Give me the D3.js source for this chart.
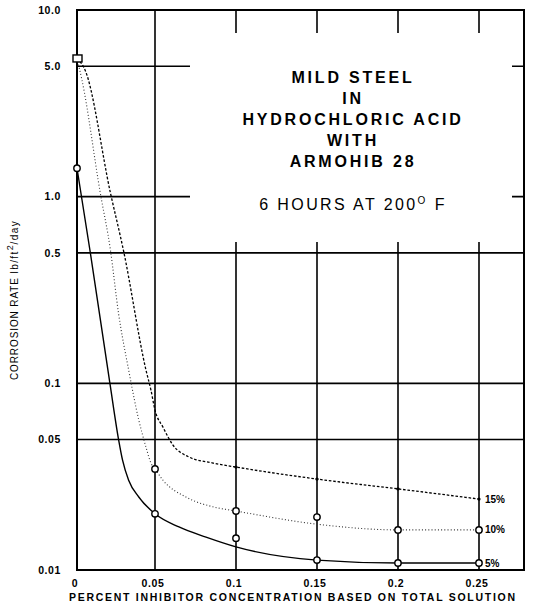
<!DOCTYPE html>
<meta charset="utf-8">
<script src="https://d3js.org/d3.v7.min.js"></script>
<style type="text/css">
    body { margin: 0; background: #fff; }
    text { font-family: "Liberation Sans", Arial, sans-serif; fill: #000; }
</style>
<body>
<svg width="533" height="607"></svg>
<script>

    // axis ticks
    let xTicks = [0, 0.05, 0.1, 0.15, 0.2, 0.25],
        xTickLabels = ['0', '0.05', '0.1', '0.15', '0.2', '0.25'],
        yTicks = [10, 5, 1, 0.5, 0.1, 0.05, 0.01],
        yTickLabels = ['10.0', '5.0', '1.0', '0.5', '0.1', '0.05', '0.01']

    // measured points (markers)
    let conc = [0, 0.05, 0.1, 0.15, 0.2, 0.25],
        obs5 = [1.42, 0.0200, 0.0148, 0.0113, 0.0109, 0.0109],
        obs10 = [5.5, 0.0348, 0.0207, 0.0192, 0.0164, 0.0164],
        obs15 = [null, null, 0.0356, 0.0307, 0.0272, 0.0240]

    // faired curves
    let curve5X = [0, 0.0084, 0.0211, 0.0266, 0.0292, 0.0331, 0.0396, 0.05, 0.0648, 0.0815, 0.1, 0.15, 0.2, 0.25],
        curve5Y = [1.42, 0.51, 0.1, 0.0503, 0.0388, 0.0303, 0.0246, 0.0200, 0.0170, 0.0150, 0.0133, 0.0113, 0.0109, 0.0109],
        curve10X = [0, 0.0032, 0.0149, 0.0214, 0.0266, 0.0331, 0.0396, 0.0442, 0.0474, 0.05, 0.0549, 0.0691, 0.0858, 0.1, 0.15, 0.2, 0.25],
        curve10Y = [5.5, 4.21, 1.05, 0.52, 0.238, 0.118, 0.0636, 0.0456, 0.0374, 0.0348, 0.0303, 0.0246, 0.0218, 0.0207, 0.0176, 0.0164, 0.0164],
        curve15X = [0, 0.0052, 0.0214, 0.0299, 0.0442, 0.0474, 0.05, 0.0549, 0.0611, 0.0710, 0.0858, 0.1, 0.15, 0.2, 0.25],
        curve15Y = [5.5, 4.76, 1.05, 0.51, 0.118, 0.092, 0.0719, 0.0583, 0.0467, 0.0403, 0.0374, 0.0356, 0.0307, 0.0272, 0.0240]

    let seriesNames = ['5%', '10%', '15%']

    let titleLines = ['MILD STEEL', 'IN', 'HYDROCHLORIC ACID', 'WITH', 'ARMOHIB 28']

    let svg = d3.select('svg')

    // the printed grid is a little uneven between 0 and 0.05
    let x = d3.scaleLinear().domain([0, 0.05, 0.25]).range([77, 155, 479]),
        y = d3.scaleLog().domain([0.01, 10]).range([570, 10]),
        xRight = 524

    // title box area (gridlines are cut out under it)
    let box = {x0: 190, x1: 512, y0: 33, y1: 242}

    let grid = svg.append('g').attr('stroke', '#000').attr('stroke-width', 1.6)

    grid.selectAll('line.v').data(xTicks.slice(1)).enter().append('line')
        .attr('class', 'v')
        .attr('x1', d => x(d)).attr('x2', d => x(d))
        .attr('y1', y(10)).attr('y2', y(0.01))

    grid.selectAll('line.h').data(yTicks.slice(1, -1)).enter().append('line')
        .attr('class', 'h')
        .attr('x1', x(0)).attr('x2', xRight)
        .attr('y1', d => y(d)).attr('y2', d => y(d))

    svg.append('rect')
        .attr('x', box.x0).attr('y', box.y0)
        .attr('width', box.x1 - box.x0).attr('height', box.y1 - box.y0)
        .attr('fill', '#fff')

    svg.append('rect')
        .attr('x', x(0)).attr('y', y(10))
        .attr('width', xRight - x(0)).attr('height', y(0.01) - y(10))
        .attr('fill', 'none').attr('stroke', '#000').attr('stroke-width', 2)

    // tick labels
    svg.selectAll('text.yt').data(yTicks).enter().append('text')
        .attr('class', 'yt')
        .attr('x', 61).attr('y', d => y(d)).attr('dy', '0.35em')
        .attr('text-anchor', 'end')
        .style('font-size', '10.5px').style('font-weight', 'bold').style('letter-spacing', '0.6px')
        .text((d, i) => yTickLabels[i])

    svg.selectAll('text.xt').data(xTicks).enter().append('text')
        .attr('class', 'xt')
        .attr('x', d => x(d) - 2).attr('y', 587)
        .attr('text-anchor', 'middle')
        .style('font-size', '10.5px').style('font-weight', 'bold').style('letter-spacing', '0.6px')
        .text((d, i) => xTickLabels[i])

    svg.append('text')
        .attr('x', 69).attr('y', 601)
        .attr('textLength', 446).attr('lengthAdjust', 'spacing')
        .style('font-size', '10.5px').style('font-weight', 'bold')
        .text('PERCENT INHIBITOR CONCENTRATION BASED ON TOTAL SOLUTION')

    let yTitle = svg.append('text')
        .attr('transform', 'translate(18, 300) rotate(-90)')
        .attr('text-anchor', 'middle')
        .style('font-size', '10px').style('letter-spacing', '0.9px')
    yTitle.append('tspan').text('CORROSION RATE ')
    yTitle.append('tspan').style('letter-spacing', '1.4px').text('lb/ft')
    yTitle.append('tspan').style('font-size', '9px').attr('dy', -5).text('2')
    yTitle.append('tspan').style('letter-spacing', '1.4px').attr('dy', 5).text('/day')

    // title
    let cx = (box.x0 + box.x1) / 2 + 2
    svg.selectAll('text.title').data(titleLines).enter().append('text')
        .attr('class', 'title')
        .attr('x', cx).attr('y', (d, i) => 83 + i * 21)
        .attr('text-anchor', 'middle')
        .style('font-size', '16px').style('font-weight', 'bold').style('letter-spacing', '2.8px')
        .text(d => d)

    let sub = svg.append('text')
        .attr('x', cx).attr('y', 210)
        .attr('text-anchor', 'middle')
        .style('font-size', '16px').style('letter-spacing', '2.4px')
    sub.append('tspan').text('6 HOURS AT 200')
    sub.append('tspan').attr('dy', -6).style('font-size', '10px').text('O')
    sub.append('tspan').attr('dy', 6).text(' F')

    // curves
    let line = d3.line().x(d => x(d[0])).y(d => y(d[1])).curve(d3.curveMonotoneX)

    let curves = [
        {pts: d3.zip(curve5X, curve5Y), dash: null, w: 1.4, c: '#000'},
        {pts: d3.zip(curve10X, curve10Y), dash: '1,2.2', w: 1.1, c: '#333'},
        {pts: d3.zip(curve15X, curve15Y), dash: '2.6,1.8', w: 1.3, c: '#000'}
    ]

    svg.selectAll('path.curve').data(curves).enter().append('path')
        .attr('class', 'curve')
        .attr('d', d => line(d.pts))
        .attr('fill', 'none')
        .attr('stroke', d => d.c)
        .attr('stroke-width', d => d.w)
        .attr('stroke-dasharray', d => d.dash)

    // markers
    let circles5 = conc.map((c, i) => [c, obs5[i]]),
        circles10 = conc.map((c, i) => [c, obs10[i]]).slice(1),
        dots15 = conc.map((c, i) => [c, obs15[i]]).filter(d => d[1] != null)

    svg.selectAll('circle.o').data(circles5.concat(circles10)).enter().append('circle')
        .attr('class', 'o')
        .attr('cx', d => x(d[0])).attr('cy', d => y(d[1]))
        .attr('r', 3.2)
        .attr('fill', '#fff').attr('stroke', '#000').attr('stroke-width', 1.4)

    svg.selectAll('circle.dot').data(dots15).enter().append('circle')
        .attr('class', 'dot')
        .attr('cx', d => x(d[0])).attr('cy', d => y(d[1]))
        .attr('r', 1.6)
        .attr('fill', '#000')

    svg.append('rect')
        .attr('x', x(conc[0]) - 4).attr('y', y(obs10[0]) - 3.5)
        .attr('width', 9).attr('height', 7)
        .attr('fill', '#fff').attr('stroke', '#000').attr('stroke-width', 1.4)

    // series labels at the right end
    let ends = [obs5[5], obs10[5], obs15[5]]
    svg.selectAll('text.sl').data(seriesNames).enter().append('text')
        .attr('class', 'sl')
        .attr('x', x(0.25) + 6).attr('y', (d, i) => y(ends[i])).attr('dy', '0.35em')
        .style('font-size', '10px').style('font-weight', 'bold')
        .text(d => d)

</script>
</body>
